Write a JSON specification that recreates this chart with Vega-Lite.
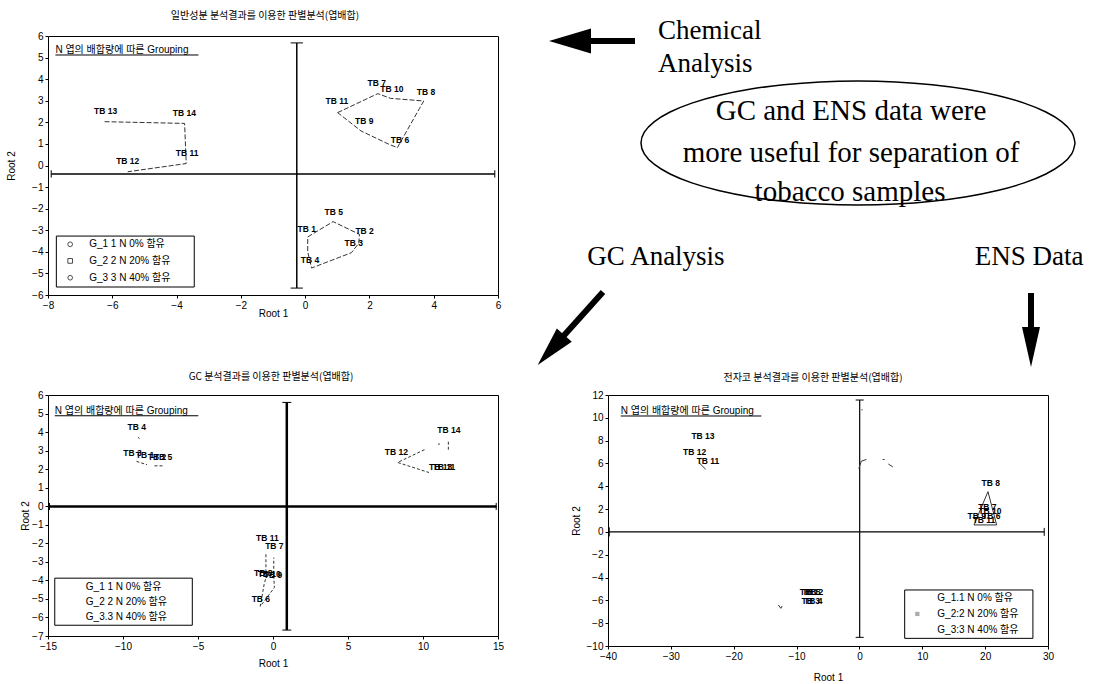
{
  "$schema": "https://vega.github.io/schema/vega-lite/v6.json",
  "padding": {"left": 6, "top": 10, "right": 0, "bottom": 0},
  "autosize": {"type": "pad"},
  "background": "white",
  "config": {
    "view": {"stroke": null},
    "font": "Liberation Sans",
    "axis": {"grid": false, "domain": false, "tickSize": 3, "tickColor": "black", "labelColor": "black", "labelFontSize": 10, "labelFont": "Liberation Sans", "titleFont": "Liberation Sans", "titleFontSize": 10, "titleFontWeight": "normal", "titleColor": "black", "labelPadding": 2, "labelOverlap": false, "labelFlush": false},
    "title": {"font": "Noto Sans CJK KR", "fontSize": 10, "fontWeight": "normal", "color": "black", "anchor": "middle", "baseline": "bottom"}
  },
  "datasets": {
    "p1": [
      {"kind": "ax", "x": -7.9, "y": -0.39, "x2": 5.9, "y2": -0.39},
      {"kind": "ax", "x": -0.26, "y": -5.68, "x2": -0.26, "y2": 5.68},
      {"kind": "cap", "x": -7.9, "y": -0.56, "x2": -7.9, "y2": -0.22},
      {"kind": "cap", "x": 5.9, "y": -0.56, "x2": 5.9, "y2": -0.22},
      {"kind": "cap", "x": -0.45, "y": 5.68, "x2": -0.07, "y2": 5.68},
      {"kind": "cap", "x": -0.45, "y": -5.68, "x2": -0.07, "y2": -5.68},
      {"kind": "ul", "x": -7.77, "y": 5.12, "x2": -3.32, "y2": 5.12},
      {"kind": "ln", "seg": "g3", "i": 0, "x": -6.24, "y": 2.03},
      {"kind": "ln", "seg": "g3", "i": 1, "x": -3.75, "y": 1.95},
      {"kind": "ln", "seg": "g3", "i": 2, "x": -3.7, "y": 0.09},
      {"kind": "ln", "seg": "g3", "i": 3, "x": -5.52, "y": -0.29},
      {"kind": "ln", "seg": "g2", "i": 0, "x": 1.01, "y": 2.45},
      {"kind": "ln", "seg": "g2", "i": 1, "x": 2.26, "y": 3.33},
      {"kind": "ln", "seg": "g2", "i": 2, "x": 2.66, "y": 3.11},
      {"kind": "ln", "seg": "g2", "i": 3, "x": 3.69, "y": 2.99},
      {"kind": "ln", "seg": "g2", "i": 4, "x": 3.56, "y": 2.65},
      {"kind": "ln", "seg": "g2", "i": 5, "x": 2.87, "y": 0.83},
      {"kind": "ln", "seg": "g2", "i": 6, "x": 2.61, "y": 0.98},
      {"kind": "ln", "seg": "g2", "i": 7, "x": 1.74, "y": 1.6},
      {"kind": "ln", "seg": "g2", "i": 8, "x": 1.01, "y": 2.45},
      {"kind": "ln", "seg": "g1", "i": 0, "x": 0.08, "y": -3.31},
      {"kind": "ln", "seg": "g1", "i": 1, "x": 0.87, "y": -2.6},
      {"kind": "ln", "seg": "g1", "i": 2, "x": 1.69, "y": -3.19},
      {"kind": "ln", "seg": "g1", "i": 3, "x": 1.67, "y": -3.6},
      {"kind": "ln", "seg": "g1", "i": 4, "x": 1.44, "y": -4.04},
      {"kind": "ln", "seg": "g1", "i": 5, "x": 0.2, "y": -4.75},
      {"kind": "ln", "seg": "g1", "i": 6, "x": 0.08, "y": -4.0},
      {"kind": "ln", "seg": "g1", "i": 7, "x": 0.08, "y": -3.31},
      {"kind": "lab", "t": "TB 13", "x": -6.21, "y": 2.03},
      {"kind": "lab", "t": "TB 14", "x": -3.76, "y": 1.9},
      {"kind": "lab", "t": "TB 11", "x": -3.67, "y": 0.05},
      {"kind": "lab", "t": "TB 12", "x": -5.52, "y": -0.28},
      {"kind": "lab", "t": "TB 7", "x": 2.23, "y": 3.31},
      {"kind": "lab", "t": "TB 10", "x": 2.7, "y": 3.03},
      {"kind": "lab", "t": "TB 8", "x": 3.76, "y": 2.9},
      {"kind": "lab", "t": "TB 11", "x": 0.99, "y": 2.46},
      {"kind": "lab", "t": "TB 9", "x": 1.84, "y": 1.54},
      {"kind": "lab", "t": "TB 6", "x": 2.95, "y": 0.69},
      {"kind": "lab", "t": "TB 5", "x": 0.89, "y": -2.66},
      {"kind": "lab", "t": "TB 1", "x": 0.05, "y": -3.45},
      {"kind": "lab", "t": "TB 2", "x": 1.85, "y": -3.56},
      {"kind": "lab", "t": "TB 3", "x": 1.51, "y": -4.1},
      {"kind": "lab", "t": "TB 4", "x": 0.15, "y": -4.87},
      {"kind": "sub", "t": "N 엽의 배합량에 따른 Grouping", "x": -7.77, "y": 5.34},
      {"kind": "box", "x": -7.74, "x2": -3.45, "y": -3.27, "y2": -5.63},
      {"kind": "lt", "t": "G_1 1 N  0% 함유", "x": -6.72, "y": -3.65},
      {"kind": "lt", "t": "G_2 2 N 20% 함유", "x": -6.72, "y": -4.42},
      {"kind": "lt", "t": "G_3 3 N 40% 함유", "x": -6.72, "y": -5.2},
      {"kind": "sym", "g": "G1", "x": -7.31, "y": -3.65},
      {"kind": "sym", "g": "G2", "x": -7.31, "y": -4.42},
      {"kind": "sym", "g": "G3", "x": -7.31, "y": -5.2}
    ],
    "p2": [
      {"kind": "ax", "x": -15, "y": -0.01, "x2": 14.9, "y2": -0.01},
      {"kind": "ax", "x": 0.92, "y": -6.68, "x2": 0.92, "y2": 5.6},
      {"kind": "cap", "x": 0.62, "y": 5.6, "x2": 1.22, "y2": 5.6},
      {"kind": "cap", "x": 0.62, "y": -6.68, "x2": 1.22, "y2": -6.68},
      {"kind": "cap", "x": -14.9, "y": -0.2, "x2": -14.9, "y2": 0.18},
      {"kind": "cap", "x": 14.88, "y": -0.2, "x2": 14.88, "y2": 0.18},
      {"kind": "ul", "x": -14.55, "y": 4.88, "x2": -4.98, "y2": 4.88},
      {"kind": "ln", "seg": "a", "i": 0, "x": -9.1, "y": 2.42},
      {"kind": "ln", "seg": "a", "i": 1, "x": -8.4, "y": 2.24},
      {"kind": "ln", "seg": "b", "i": 0, "x": -7.9, "y": 2.18},
      {"kind": "ln", "seg": "b", "i": 1, "x": -7.35, "y": 2.18},
      {"kind": "ln", "seg": "c", "i": 0, "x": -9.0, "y": 3.72},
      {"kind": "ln", "seg": "c", "i": 1, "x": -8.9, "y": 3.65},
      {"kind": "ln", "seg": "d", "i": 0, "x": 10.1, "y": 3.05},
      {"kind": "ln", "seg": "d", "i": 1, "x": 8.31, "y": 2.36},
      {"kind": "ln", "seg": "d", "i": 2, "x": 10.4, "y": 1.82},
      {"kind": "ln", "seg": "e", "i": 0, "x": 11.69, "y": 3.48},
      {"kind": "ln", "seg": "e", "i": 1, "x": 11.69, "y": 2.95},
      {"kind": "ln", "seg": "g", "i": 0, "x": 11.0, "y": 3.35},
      {"kind": "ln", "seg": "g", "i": 1, "x": 11.12, "y": 3.35},
      {"kind": "ln", "seg": "f", "i": 0, "x": -0.47, "y": -2.59},
      {"kind": "ln", "seg": "f", "i": 1, "x": -0.47, "y": -3.85},
      {"kind": "ln", "seg": "f", "i": 2, "x": -0.59, "y": -4.21},
      {"kind": "ln", "seg": "f", "i": 3, "x": -0.85, "y": -5.4},
      {"kind": "ln", "seg": "f", "i": 4, "x": 0.09, "y": -4.39},
      {"kind": "ln", "seg": "f", "i": 5, "x": 0.05, "y": -3.76},
      {"kind": "ln", "seg": "f", "i": 6, "x": 0.05, "y": -2.77},
      {"kind": "lab", "t": "TB 4", "x": -9.08, "y": 3.71},
      {"kind": "lab", "t": "TB 3", "x": -9.37, "y": 2.31},
      {"kind": "lab", "t": "TB 1", "x": -8.54, "y": 2.24},
      {"kind": "lab", "t": "TB 2", "x": -7.73, "y": 2.13},
      {"kind": "lab", "t": "TB 5", "x": -7.34, "y": 2.09},
      {"kind": "lab", "t": "TB 14", "x": 11.73, "y": 3.59},
      {"kind": "lab", "t": "TB 12", "x": 8.22, "y": 2.36},
      {"kind": "lab", "t": "TB 13", "x": 11.17, "y": 1.59},
      {"kind": "lab", "t": "TB 11", "x": 11.4, "y": 1.59},
      {"kind": "lab", "t": "TB 11", "x": -0.38, "y": -2.26},
      {"kind": "lab", "t": "TB 7", "x": 0.09, "y": -2.68},
      {"kind": "lab", "t": "TB 8", "x": -0.65, "y": -4.12},
      {"kind": "lab", "t": "TB 10", "x": -0.25, "y": -4.17},
      {"kind": "lab", "t": "TB 9", "x": 0.0, "y": -4.26},
      {"kind": "lab", "t": "TB 6", "x": -0.81, "y": -5.56},
      {"kind": "sub", "t": "N 엽의 배합량에 따른 Grouping", "x": -14.55, "y": 5.15},
      {"kind": "box", "x": -14.55, "x2": -5.38, "y": -3.88, "y2": -6.42},
      {"kind": "lt", "t": "G_1 1 N  0% 함유", "x": -12.48, "y": -4.35},
      {"kind": "lt", "t": "G_2 2 N 20% 함유", "x": -12.48, "y": -5.15},
      {"kind": "lt", "t": "G_3.3 N 40% 함유", "x": -12.48, "y": -5.96}
    ],
    "p3": [
      {"kind": "ax", "x": -39.85, "y": 0, "x2": 29.4, "y2": 0},
      {"kind": "ax", "x": 0.04, "y": -9.24, "x2": 0.04, "y2": 11.56},
      {"kind": "cap", "x": -0.6, "y": 11.56, "x2": 0.68, "y2": 11.56},
      {"kind": "cap", "x": -0.6, "y": -9.24, "x2": 0.68, "y2": -9.24},
      {"kind": "cap", "x": -39.8, "y": -0.4, "x2": -39.8, "y2": 0.4},
      {"kind": "cap", "x": 29.4, "y": -0.35, "x2": 29.4, "y2": 0.35},
      {"kind": "ul", "x": -37.98, "y": 10.16, "x2": -15.6, "y2": 10.16},
      {"kind": "ln", "seg": "a", "i": 0, "x": -25.52, "y": 6.07},
      {"kind": "ln", "seg": "a", "i": 1, "x": -24.46, "y": 5.49},
      {"kind": "ln", "seg": "b", "i": 0, "x": 20.45, "y": 3.53},
      {"kind": "ln", "seg": "b", "i": 1, "x": 18.23, "y": 0.61},
      {"kind": "ln", "seg": "b", "i": 2, "x": 21.83, "y": 0.61},
      {"kind": "ln", "seg": "b", "i": 3, "x": 20.45, "y": 3.53},
      {"kind": "ln", "seg": "c", "i": 0, "x": -0.1, "y": 5.55},
      {"kind": "ln", "seg": "c", "i": 1, "x": 0.3, "y": 6.2},
      {"kind": "ln", "seg": "c", "i": 2, "x": 1.1, "y": 6.35},
      {"kind": "ln", "seg": "d", "i": 0, "x": 3.7, "y": 6.35},
      {"kind": "ln", "seg": "d", "i": 1, "x": 4.0, "y": 6.35},
      {"kind": "ln", "seg": "e", "i": 0, "x": 4.6, "y": 5.95},
      {"kind": "ln", "seg": "e", "i": 1, "x": 5.3, "y": 5.7},
      {"kind": "ln", "seg": "f", "i": 0, "x": 0.3, "y": 10.7},
      {"kind": "ln", "seg": "f", "i": 1, "x": 0.5, "y": 10.7},
      {"kind": "ln", "seg": "h", "i": 0, "x": -12.9, "y": -6.4},
      {"kind": "ln", "seg": "h", "i": 1, "x": -12.5, "y": -6.7},
      {"kind": "ln", "seg": "h", "i": 2, "x": -12.3, "y": -6.5},
      {"kind": "lab", "t": "TB 13", "x": -24.89, "y": 7.53},
      {"kind": "lab", "t": "TB 12", "x": -26.21, "y": 6.16},
      {"kind": "lab", "t": "TB 11", "x": -24.09, "y": 5.34},
      {"kind": "lab", "t": "TB 1", "x": -8.02, "y": -6.11},
      {"kind": "lab", "t": "TB 5", "x": -7.65, "y": -6.11},
      {"kind": "lab", "t": "TB 2", "x": -7.23, "y": -6.11},
      {"kind": "lab", "t": "TB 3", "x": -7.76, "y": -6.9},
      {"kind": "lab", "t": "TB 4", "x": -7.34, "y": -6.9},
      {"kind": "lab", "t": "TB 8", "x": 20.88, "y": 3.44},
      {"kind": "lab", "t": "TB 7", "x": 20.35, "y": 1.34},
      {"kind": "lab", "t": "TB 10", "x": 20.77, "y": 0.99},
      {"kind": "lab", "t": "TB 9", "x": 18.65, "y": 0.52},
      {"kind": "lab", "t": "TB 6", "x": 20.99, "y": 0.52},
      {"kind": "lab", "t": "TB 11", "x": 19.82, "y": 0.17},
      {"kind": "sub", "t": "N 엽의 배합량에 따른 Grouping", "x": -37.98, "y": 10.6},
      {"kind": "box", "x": 7.2, "x2": 27.6, "y": -5.09, "y2": -9.33},
      {"kind": "lt", "t": "G_1.1 N  0% 함유", "x": 12.39, "y": -5.76},
      {"kind": "lt", "t": "G_2:2 N 20% 함유", "x": 12.39, "y": -7.19},
      {"kind": "lt", "t": "G_3:3 N 40% 함유", "x": 12.39, "y": -8.6},
      {"kind": "sym", "g": "G2", "x": 9.21, "y": -7.19}
    ],
    "ann": [
      {"kind": "ell", "i": 0, "u": 1074, "v": 142},
      {"kind": "ell", "i": 1, "u": 1070.7, "v": 152.8},
      {"kind": "ell", "i": 2, "u": 1060.9, "v": 163.2},
      {"kind": "ell", "i": 3, "u": 1044.9, "v": 173},
      {"kind": "ell", "i": 4, "u": 1023.2, "v": 181.9},
      {"kind": "ell", "i": 5, "u": 996.5, "v": 189.5},
      {"kind": "ell", "i": 6, "u": 965.5, "v": 195.7},
      {"kind": "ell", "i": 7, "u": 931.2, "v": 200.3},
      {"kind": "ell", "i": 8, "u": 894.7, "v": 203.1},
      {"kind": "ell", "i": 9, "u": 857, "v": 204},
      {"kind": "ell", "i": 10, "u": 819.3, "v": 203.1},
      {"kind": "ell", "i": 11, "u": 782.8, "v": 200.3},
      {"kind": "ell", "i": 12, "u": 748.5, "v": 195.7},
      {"kind": "ell", "i": 13, "u": 717.5, "v": 189.5},
      {"kind": "ell", "i": 14, "u": 690.8, "v": 181.9},
      {"kind": "ell", "i": 15, "u": 669.1, "v": 173},
      {"kind": "ell", "i": 16, "u": 653.1, "v": 163.2},
      {"kind": "ell", "i": 17, "u": 643.3, "v": 152.8},
      {"kind": "ell", "i": 18, "u": 640, "v": 142},
      {"kind": "ell", "i": 19, "u": 643.3, "v": 131.2},
      {"kind": "ell", "i": 20, "u": 653.1, "v": 120.8},
      {"kind": "ell", "i": 21, "u": 669.1, "v": 111},
      {"kind": "ell", "i": 22, "u": 690.8, "v": 102.1},
      {"kind": "ell", "i": 23, "u": 717.5, "v": 94.5},
      {"kind": "ell", "i": 24, "u": 748.5, "v": 88.3},
      {"kind": "ell", "i": 25, "u": 782.8, "v": 83.7},
      {"kind": "ell", "i": 26, "u": 819.3, "v": 80.9},
      {"kind": "ell", "i": 27, "u": 857, "v": 80},
      {"kind": "ell", "i": 28, "u": 894.7, "v": 80.9},
      {"kind": "ell", "i": 29, "u": 931.2, "v": 83.7},
      {"kind": "ell", "i": 30, "u": 965.5, "v": 88.3},
      {"kind": "ell", "i": 31, "u": 996.5, "v": 94.5},
      {"kind": "ell", "i": 32, "u": 1023.2, "v": 102.1},
      {"kind": "ell", "i": 33, "u": 1044.9, "v": 111},
      {"kind": "ell", "i": 34, "u": 1060.9, "v": 120.8},
      {"kind": "ell", "i": 35, "u": 1070.7, "v": 131.2},
      {"kind": "ell", "i": 36, "u": 1074, "v": 142},
      {"kind": "sh", "u": 588, "v": 40, "u2": 634, "v2": 40},
      {"kind": "sh", "u": 1030, "v": 292, "u2": 1030, "v2": 330},
      {"kind": "sh", "u": 602, "v": 291, "u2": 558, "v2": 340},
      {"kind": "hd", "dir": "left", "u": 569, "v": 40},
      {"kind": "hd", "dir": "down", "u": 1030, "v": 346},
      {"kind": "hd", "dir": "dl", "u": 550, "v": 349},
      {"kind": "tl", "t": "Chemical", "u": 657, "v": 30},
      {"kind": "tl", "t": "Analysis", "u": 657, "v": 63},
      {"kind": "tc", "t": "GC and ENS data were", "u": 850, "v": 110},
      {"kind": "tc", "t": "more useful for separation of", "u": 850, "v": 152},
      {"kind": "tc", "t": "tobacco samples", "u": 849, "v": 191},
      {"kind": "tg", "t": "GC Analysis", "u": 655, "v": 256},
      {"kind": "tg", "t": "ENS Data", "u": 1028, "v": 256}
    ]
  },
  "columns": 2,
  "align": "each",
  "bounds": "flush",
  "spacing": {"row": 100, "column": 110},
  "concat": [
    {
      "width": 450, "height": 259,
      "view": {"stroke": "black", "strokeWidth": 1},
      "title": {"text": "일반성분 분석결과를 이용한 판별분석(엽배합)", "offset": 10, "dx": -8},
      "data": {"name": "p1"},
      "encoding": {
        "x": {"field": "x", "type": "quantitative", "scale": {"domain": [-8, 6], "nice": false, "zero": false}, "axis": {"values": [-8, -6, -4, -2, 0, 2, 4, 6], "title": "Root 1", "titlePadding": -2}},
        "y": {"field": "y", "type": "quantitative", "scale": {"domain": [-6, 6], "nice": false, "zero": false}, "axis": {"values": [-6, -5, -4, -3, -2, -1, 0, 1, 2, 3, 4, 5, 6], "title": "Root 2", "titlePadding": 15}}
      },
      "layer": [
        {"transform": [{"filter": "datum.kind === 'box'"}], "mark": {"type": "rect", "fill": "white", "stroke": "black", "strokeWidth": 1}, "encoding": {"x2": {"field": "x2"}, "y2": {"field": "y2"}}},
        {"transform": [{"filter": "datum.kind === 'ax'"}], "mark": {"type": "rule", "color": "black", "strokeWidth": 1.5}, "encoding": {"x2": {"field": "x2"}, "y2": {"field": "y2"}}},
        {"transform": [{"filter": "datum.kind === 'cap' || datum.kind === 'ul'"}], "mark": {"type": "rule", "color": "black", "strokeWidth": 1}, "encoding": {"x2": {"field": "x2"}, "y2": {"field": "y2"}}},
        {"transform": [{"filter": "datum.kind === 'ln'"}], "mark": {"type": "line", "color": "#333333", "strokeWidth": 1, "strokeDash": [5, 2]}, "encoding": {"detail": {"field": "seg"}, "order": {"field": "i", "type": "quantitative"}}},
        {"transform": [{"filter": "datum.kind === 'lab'"}], "mark": {"type": "text", "dy": -11, "fontSize": 8.5, "fontWeight": "bold", "color": "black", "align": "center", "baseline": "middle"}, "encoding": {"text": {"field": "t"}}},
        {"transform": [{"filter": "datum.kind === 'sub' || datum.kind === 'lt'"}], "mark": {"type": "text", "font": "Liberation Sans, Noto Sans CJK KR", "fontSize": 10, "color": "black", "align": "left", "baseline": "middle"}, "encoding": {"text": {"field": "t"}}},
        {"transform": [{"filter": "datum.kind === 'sym'"}], "mark": {"type": "point", "filled": false, "size": 22, "color": "black", "strokeWidth": 1}, "encoding": {"shape": {"field": "g", "type": "nominal", "scale": {"domain": ["G1", "G2", "G3"], "range": ["circle", "square", "circle"]}, "legend": null}}}
      ]
    },
    {
      "width": 480, "height": 259,
      "data": {"name": "ann"},
      "encoding": {
        "x": {"field": "u", "type": "quantitative", "scale": {"domain": [607, 1087], "nice": false, "zero": false}, "axis": null},
        "y": {"field": "v", "type": "quantitative", "scale": {"domain": [35, 294], "nice": false, "zero": false, "reverse": true}, "axis": null}
      },
      "layer": [
        {"transform": [{"filter": "datum.kind === 'ell'"}], "mark": {"type": "line", "color": "black", "strokeWidth": 1.5, "interpolate": "cardinal"}, "encoding": {"order": {"field": "i", "type": "quantitative"}}},
        {"transform": [{"filter": "datum.kind === 'sh'"}], "mark": {"type": "rule", "color": "black", "strokeWidth": 6}, "encoding": {"x2": {"field": "u2"}, "y2": {"field": "v2"}}},
        {"transform": [{"filter": "datum.kind === 'hd' && datum.dir === 'left'"}], "mark": {"type": "point", "shape": "M0,-1L0.6,1L-0.6,1Z", "filled": true, "color": "black", "opacity": 1, "size": 1764, "angle": 270}},
        {"transform": [{"filter": "datum.kind === 'hd' && datum.dir === 'down'"}], "mark": {"type": "point", "shape": "M0,-1L0.45,1L-0.45,1Z", "filled": true, "color": "black", "opacity": 1, "size": 1600, "angle": 180}},
        {"transform": [{"filter": "datum.kind === 'hd' && datum.dir === 'dl'"}], "mark": {"type": "point", "shape": "M0,-1L0.5,1L-0.5,1Z", "filled": true, "color": "black", "opacity": 1, "size": 1600, "angle": 221.7}},
        {"transform": [{"filter": "datum.kind === 'tl'"}], "mark": {"type": "text", "font": "Liberation Serif", "fontSize": 27, "color": "black", "align": "left", "baseline": "middle"}, "encoding": {"text": {"field": "t"}}},
        {"transform": [{"filter": "datum.kind === 'tc'"}], "mark": {"type": "text", "font": "Liberation Serif", "fontSize": 29, "color": "black", "align": "center", "baseline": "middle"}, "encoding": {"text": {"field": "t"}}},
        {"transform": [{"filter": "datum.kind === 'tg'"}], "mark": {"type": "text", "font": "Liberation Serif", "fontSize": 27, "color": "black", "align": "center", "baseline": "middle"}, "encoding": {"text": {"field": "t"}}}
      ]
    },
    {
      "width": 450, "height": 241,
      "view": {"stroke": "black", "strokeWidth": 1},
      "title": {"text": "GC 분석결과를 이용한 판별분석(엽배합)", "offset": 8, "dx": -2},
      "data": {"name": "p2"},
      "encoding": {
        "x": {"field": "x", "type": "quantitative", "scale": {"domain": [-15, 15], "nice": false, "zero": false}, "axis": {"values": [-15, -10, -5, 0, 5, 10, 15], "title": "Root 1", "titlePadding": 7}},
        "y": {"field": "y", "type": "quantitative", "scale": {"domain": [-7, 6], "nice": false, "zero": false}, "axis": {"values": [-7, -6, -5, -4, -3, -2, -1, 0, 1, 2, 3, 4, 5, 6], "title": "Root 2", "titlePadding": 1}}
      },
      "layer": [
        {"transform": [{"filter": "datum.kind === 'box'"}], "mark": {"type": "rect", "fill": "white", "stroke": "black", "strokeWidth": 1}, "encoding": {"x2": {"field": "x2"}, "y2": {"field": "y2"}}},
        {"transform": [{"filter": "datum.kind === 'ax'"}], "mark": {"type": "rule", "color": "black", "strokeWidth": 2.5}, "encoding": {"x2": {"field": "x2"}, "y2": {"field": "y2"}}},
        {"transform": [{"filter": "datum.kind === 'cap' || datum.kind === 'ul'"}], "mark": {"type": "rule", "color": "black", "strokeWidth": 1}, "encoding": {"x2": {"field": "x2"}, "y2": {"field": "y2"}}},
        {"transform": [{"filter": "datum.kind === 'ln'"}], "mark": {"type": "line", "color": "#333333", "strokeWidth": 1, "strokeDash": [3, 2]}, "encoding": {"detail": {"field": "seg"}, "order": {"field": "i", "type": "quantitative"}}},
        {"transform": [{"filter": "datum.kind === 'lab'"}], "mark": {"type": "text", "dy": -10, "fontSize": 8.5, "fontWeight": "bold", "color": "black", "align": "center", "baseline": "middle"}, "encoding": {"text": {"field": "t"}}},
        {"transform": [{"filter": "datum.kind === 'sub' || datum.kind === 'lt'"}], "mark": {"type": "text", "font": "Liberation Sans, Noto Sans CJK KR", "fontSize": 10, "color": "black", "align": "left", "baseline": "middle"}, "encoding": {"text": {"field": "t"}}}
      ]
    },
    {
      "width": 440, "height": 251,
      "view": {"stroke": "black", "strokeWidth": 1},
      "title": {"text": "전자코 분석결과를 이용한 판별분석(엽배합)", "offset": 7, "dx": -15},
      "data": {"name": "p3"},
      "encoding": {
        "x": {"field": "x", "type": "quantitative", "scale": {"domain": [-40, 30], "nice": false, "zero": false}, "axis": {"values": [-40, -30, -20, -10, 0, 10, 20, 30], "title": "Root 1", "titlePadding": 11}},
        "y": {"field": "y", "type": "quantitative", "scale": {"domain": [-10, 12], "nice": false, "zero": false}, "axis": {"values": [-10, -8, -6, -4, -2, 0, 2, 4, 6, 8, 10, 12], "title": "Root 2", "titlePadding": 5}}
      },
      "layer": [
        {"transform": [{"filter": "datum.kind === 'box'"}], "mark": {"type": "rect", "fill": "white", "stroke": "black", "strokeWidth": 1}, "encoding": {"x2": {"field": "x2"}, "y2": {"field": "y2"}}},
        {"transform": [{"filter": "datum.kind === 'ax'"}], "mark": {"type": "rule", "color": "black", "strokeWidth": 1.2}, "encoding": {"x2": {"field": "x2"}, "y2": {"field": "y2"}}},
        {"transform": [{"filter": "datum.kind === 'cap' || datum.kind === 'ul'"}], "mark": {"type": "rule", "color": "black", "strokeWidth": 1}, "encoding": {"x2": {"field": "x2"}, "y2": {"field": "y2"}}},
        {"transform": [{"filter": "datum.kind === 'ln'"}], "mark": {"type": "line", "color": "#333333", "strokeWidth": 1}, "encoding": {"detail": {"field": "seg"}, "order": {"field": "i", "type": "quantitative"}}},
        {"transform": [{"filter": "datum.kind === 'lab'"}], "mark": {"type": "text", "dy": -10, "fontSize": 8.5, "fontWeight": "bold", "color": "black", "align": "center", "baseline": "middle"}, "encoding": {"text": {"field": "t"}}},
        {"transform": [{"filter": "datum.kind === 'sub' || datum.kind === 'lt'"}], "mark": {"type": "text", "font": "Liberation Sans, Noto Sans CJK KR", "fontSize": 10, "color": "black", "align": "left", "baseline": "middle"}, "encoding": {"text": {"field": "t"}}},
        {"transform": [{"filter": "datum.kind === 'sym'"}], "mark": {"type": "point", "filled": true, "size": 18, "shape": "square", "color": "#888888"}}
      ]
    }
  ]
}
